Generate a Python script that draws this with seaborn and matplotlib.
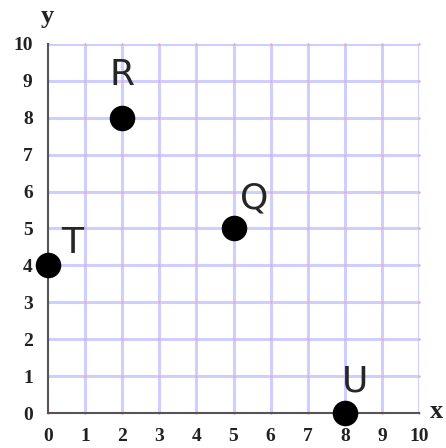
import matplotlib
matplotlib.use("Agg")
import matplotlib.pyplot as plt
import seaborn as sns
import numpy as np
import pandas as pd

names = ["R", "Q", "T", "U"]
xs = [2, 5, 0, 8]
ys = [8, 5, 4, 0]
label_dx = [0.0, 0.55, 0.65, 0.27]
label_dy = [1.15, 0.8, 0.62, 0.85]
ticks = list(range(0, 11))

sns.set_style("white")
fig = plt.figure(figsize=(4.46, 4.48), dpi=100)
ax = fig.add_axes([48/446, 35/448, 371/446, 369/448])

# grid
for t in ticks[1:]:
    ax.axvline(t, color="#cfcfff", lw=2.2, zorder=0)
    ax.axhline(t, color="#cfcfff", lw=2.2, zorder=0)
gx, gy = np.meshgrid(ticks, ticks)
ax.scatter(gx.ravel(), gy.ravel(), s=3, color="#f4a0b0", zorder=1, linewidths=0, clip_on=False)

df = pd.DataFrame({"x": xs, "y": ys, "name": names})
sns.scatterplot(data=df, x="x", y="y", s=290, color="black", edgecolor="black",
                zorder=5, clip_on=False, ax=ax, legend=False)

for n, x, y, dx, dy in zip(names, xs, ys, label_dx, label_dy):
    ax.text(x + dx, y + dy, n, fontsize=26, ha="center", va="center",
            family="DejaVu Sans", weight="normal", zorder=6)

ax.set_xlim(0, 10)
ax.set_ylim(0, 10)
ax.set_xticks(ticks)
ax.set_yticks(ticks)
ax.set_xlabel("")
ax.set_ylabel("")
for sp in ["top", "right"]:
    ax.spines[sp].set_visible(False)
for sp in ["left", "bottom"]:
    ax.spines[sp].set_color("#555555")
    ax.spines[sp].set_linewidth(1.5)
ax.tick_params(axis="both", direction="inout", length=8, width=1.2, color="#555555",
               labelsize=14, pad=7)
for lab in ax.get_xticklabels() + ax.get_yticklabels():
    lab.set_family("Liberation Serif")
    lab.set_weight("bold")
    lab.set_color("#222222")

fig.text(437/446, 1 - 411/448, "x", family="Liberation Serif", weight="bold",
         fontsize=19, ha="center", va="center", color="#222222")
fig.text(47/446, 1 - 16/448, "y", family="Liberation Serif", weight="bold",
         fontsize=19, ha="center", va="center", color="#222222")

fig.savefig("out.png", dpi=100)
